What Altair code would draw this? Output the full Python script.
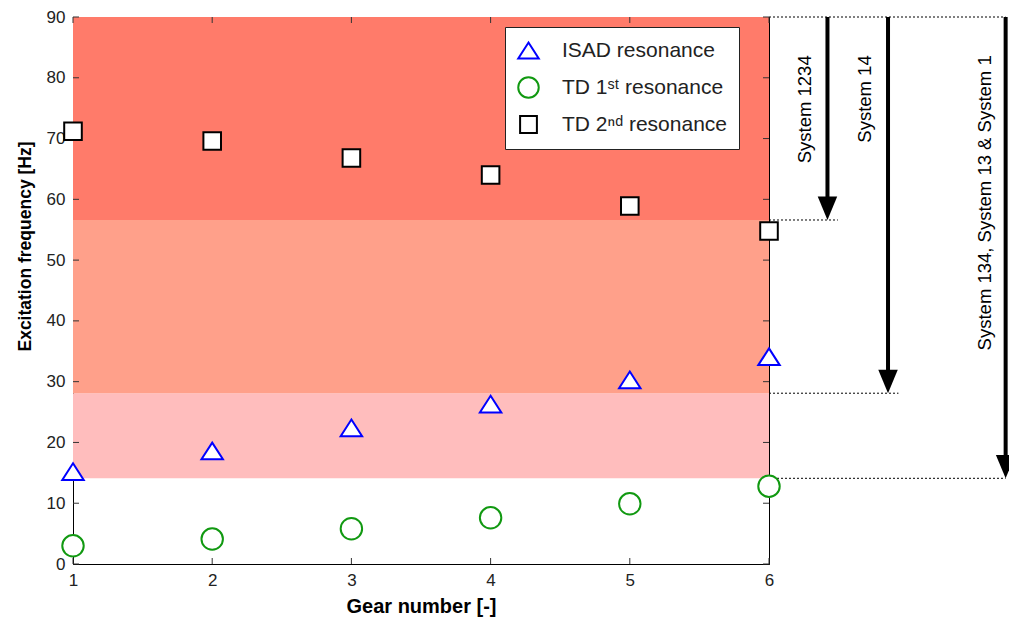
import altair as alt
import pandas as pd

# ---- data ----
gears = [1, 2, 3, 4, 5, 6]
isad = [15.2, 18.6, 22.4, 26.3, 30.3, 34.1]
td1 = [3.0, 4.1, 5.8, 7.6, 9.9, 12.8]
td2 = [71.2, 69.6, 66.8, 64.0, 58.9, 54.8]
series_names = ["ISAD resonance", "TD 1ˢᵗ resonance", "TD 2ⁿᵈ resonance"]

band_low = [14.1, 28.1, 56.6]
band_high = [28.1, 56.6, 90.0]
band_colors = ["#FFBDBD", "#FFA08A", "#FF7B6A"]

sys_labels = ["System 1234", "System 14", "System 134, System 13 & System 1"]
arrow_x = [6.42, 6.855, 7.70]
arrow_end = [56.6, 28.1, 14.1]
label_x = [6.26, 6.69, 7.55]
label_top = [83.7, 83.7, 83.7]

guide_y = [90.0, 56.6, 28.1, 14.1]
guide_x_end = [7.70, 6.495, 6.93, 7.70]

x_ticks = [1, 2, 3, 4, 5, 6]
y_ticks = [0, 10, 20, 30, 40, 50, 60, 70, 80, 90]

W, H = 696, 547
FONT = "Liberation Sans"

# marker outlines (custom symbol paths, unit = sqrt(size)/2)
TRI = "M0,-0.78L1,0.78L-1,0.78Z"
SQR = "M-0.82,-0.82L0.82,-0.82L0.82,0.82L-0.82,0.82Z"

# ---- tables ----
pts = pd.DataFrame({
    "gear": gears * 3,
    "freq": isad + td1 + td2,
    "series": [series_names[0]] * 6 + [series_names[1]] * 6 + [series_names[2]] * 6,
})
bands = pd.DataFrame({"lo": band_low, "hi": band_high, "c": band_colors})
arrows = pd.DataFrame({"x": arrow_x, "end": arrow_end, "top": [90.0] * 3,
                       "lx": label_x, "ly": label_top, "label": sys_labels})
guides = pd.DataFrame({"y": guide_y, "x0": [6.0] * 4, "x1": guide_x_end})
xt = pd.DataFrame({"t": x_ticks})
yt = pd.DataFrame({"t": y_ticks})

xscale = alt.Scale(domain=[1, 6], nice=False, zero=False)
yscale = alt.Scale(domain=[0, 90], nice=False, zero=True)

band_layer = alt.Chart(bands).mark_rect(opacity=1).encode(
    x=alt.X(datum=1, scale=xscale, type="quantitative",
            axis=alt.Axis(values=x_ticks, format="d", title="Gear number [-]",
                          labelFlush=False)),
    x2=alt.X2(datum=6),
    y=alt.Y("lo:Q", scale=yscale,
            axis=alt.Axis(values=y_ticks, title="Excitation frequency [Hz]",
                          titleY=229, labelFlush=False)),
    y2="hi:Q",
    fill=alt.Fill("c:N", scale=None),
)

tick_col = "#333333"
yticks_left = alt.Chart(yt).mark_rule(color=tick_col, strokeWidth=1).encode(
    y=alt.Y("t:Q", scale=yscale), x=alt.value(0), x2=alt.value(6))
yticks_right = alt.Chart(yt).mark_rule(color=tick_col, strokeWidth=1).encode(
    y=alt.Y("t:Q", scale=yscale), x=alt.value(W - 6), x2=alt.value(W))
xticks_bot = alt.Chart(xt).mark_rule(color=tick_col, strokeWidth=1).encode(
    x=alt.X("t:Q", scale=xscale), y=alt.value(H - 6), y2=alt.value(H))
xticks_top = alt.Chart(xt).mark_rule(color=tick_col, strokeWidth=1).encode(
    x=alt.X("t:Q", scale=xscale), y=alt.value(0), y2=alt.value(6))

guide_layer = alt.Chart(guides).mark_rule(color="black", strokeWidth=1, strokeDash=[2, 2]).encode(
    x=alt.X("x0:Q", scale=xscale), x2="x1:Q", y=alt.Y("y:Q", scale=yscale))

arrow_lines = alt.Chart(arrows).mark_rule(color="black", strokeWidth=4, y2Offset=-18).encode(
    x=alt.X("x:Q", scale=xscale), y=alt.Y("top:Q", scale=yscale), y2="end:Q")

arrow_heads = alt.Chart(arrows).mark_point(
    shape="M-1,-2.4L1,-2.4L0,0Z", filled=True, fill="black", stroke="black",
    strokeWidth=0, opacity=1, size=380,
).encode(x=alt.X("x:Q", scale=xscale), y=alt.Y("end:Q", scale=yscale))

arrow_text = alt.Chart(arrows).mark_text(
    angle=270, align="right", baseline="middle", font=FONT, fontSize=18.5, color="black",
).encode(x=alt.X("lx:Q", scale=xscale), y=alt.Y("ly:Q", scale=yscale), text="label:N")

legend_def = alt.Legend(title=None, orient="none", legendX=432, legendY=10)
point_layer = alt.Chart(pts).mark_point(
    filled=False, fill="white", strokeWidth=2, opacity=1, size=460,
).encode(
    x=alt.X("gear:Q", scale=xscale),
    y=alt.Y("freq:Q", scale=yscale),
    shape=alt.Shape("series:N", scale=alt.Scale(domain=series_names,
                    range=[TRI, "circle", SQR]), legend=legend_def),
    stroke=alt.Stroke("series:N", scale=alt.Scale(domain=series_names,
                      range=["#0000FF", "#119911", "#000000"]), legend=legend_def),
)

chart = alt.layer(
    band_layer, yticks_left, yticks_right, xticks_bot, xticks_top,
    guide_layer, arrow_lines, arrow_heads, arrow_text, point_layer,
).properties(
    width=W, height=H,
    autosize=alt.AutoSizeParams(type="none"),
    padding={"left": 73, "top": 17, "right": 240, "bottom": 59},
).configure_view(
    stroke="black", strokeWidth=1,
).configure_axis(
    grid=False, domainColor="black", domainWidth=1, ticks=False,
    labelFont=FONT, labelFontSize=17, labelColor="#222222", labelPadding=8,
    titleFont=FONT, titleFontSize=17.5, titleFontWeight="bold", titleColor="black",
).configure_axisY(
    titlePadding=12,
).configure_axisX(
    titlePadding=8, titleFontSize=20,
).configure_legend(
    fillColor="white", strokeColor="#222222", strokeWidth=1, padding=12,
    labelFont=FONT, labelFontSize=21, labelColor="#222222", labelOffset=22,
    symbolSize=420, symbolStrokeWidth=2, symbolFillColor="white", rowPadding=10,
    cornerRadius=0, labelLimit=400,
)

chart.save("out.html", embed_options={"renderer": "svg", "actions": False})
